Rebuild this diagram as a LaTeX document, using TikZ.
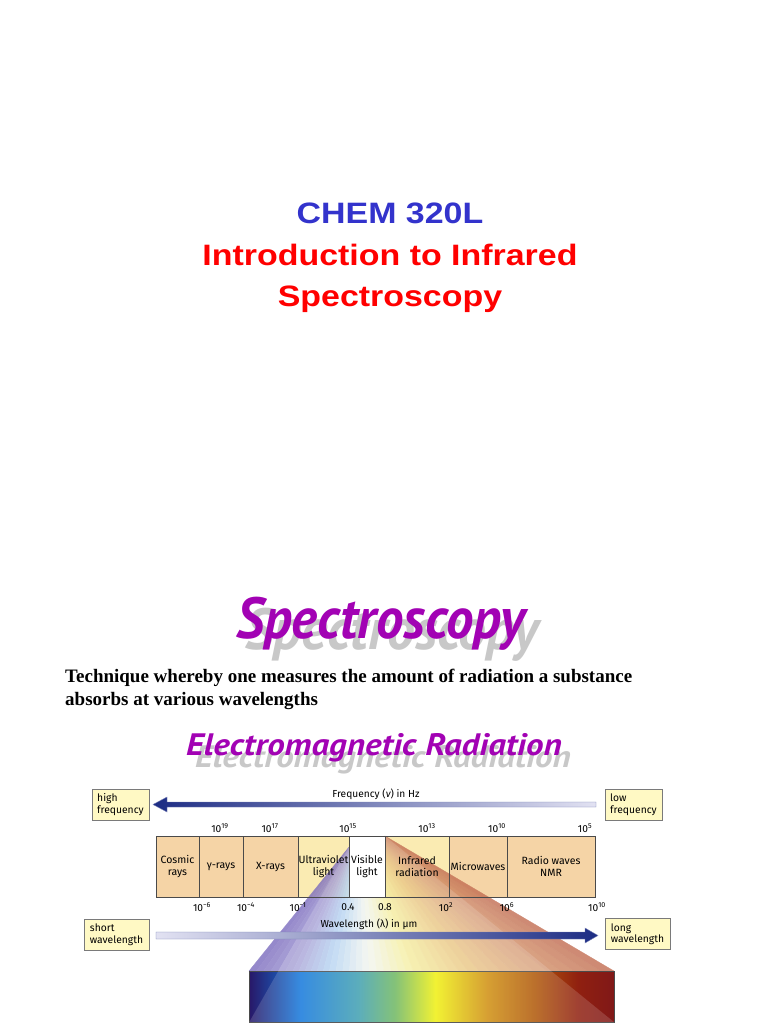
\documentclass[tikz,border=0pt]{standalone}
\usepackage{fontspec}
\setmainfont{Liberation Serif}
\newfontfamily\slidefont{Liberation Sans}
\newfontfamily\logofont{PT Sans}
\newfontfamily\figfont{Fira Sans}
\usepackage{tikz}
\usetikzlibrary{calc}

% colours of the colour strip (needed before the shading)
\definecolor{spA}{HTML}{281868}
\definecolor{spB}{HTML}{1478DC}
\definecolor{spC}{HTML}{40A0B0}
\definecolor{spD}{HTML}{70B860}
\definecolor{spE}{HTML}{F0F010}
\definecolor{spF}{HTML}{D09010}
\definecolor{spG}{HTML}{B05808}
\definecolor{spH}{HTML}{902010}
\definecolor{spI}{HTML}{801818}
\pgfdeclarehorizontalshading{visspec}{100bp}{color(0bp)=(spA); color(25bp)=(spA);
  color(32bp)=(spB); color(40bp)=(spC); color(45bp)=(spD); color(50.5bp)=(spE);
  color(57.5bp)=(spF); color(64bp)=(spG); color(70bp)=(spH); color(75bp)=(spI);
  color(100bp)=(spI)}

\begin{document}
\begin{tikzpicture}[
  x=1pt, y=-1pt,
  cell/.style={rectangle, draw=cellBorder, line width=0.6pt,
    align=center, inner sep=0pt, minimum height=61pt,
    font=\figfont\fontsize{10.5}{11.5}\selectfont},
  tag/.style={rectangle, draw=tagBorder, line width=0.6pt, fill=tagFill,
    align=left, inner xsep=3pt, inner ysep=2pt, minimum height=31pt,
    font=\figfont\fontsize{10.3}{11.5}\selectfont},
  tick/.style={font=\figfont\fontsize{10.2}{11}\selectfont, inner sep=1pt},
  heading/.style={font=\logofont\bfseries\itshape\fontsize{58}{60}\selectfont,
    color=headMagenta, inner sep=0pt, anchor=base west},
  headshadow/.style={heading, color=headShadow},
  subheading/.style={heading, font=\logofont\bfseries\itshape\fontsize{31}{33}\selectfont},
  titleline/.style={font=\slidefont\bfseries\fontsize{29.5}{34}\selectfont,
    inner sep=0pt, anchor=base},
]
\definecolor{titleBlue}{HTML}{3333CC}
\definecolor{titleRed}{HTML}{FF0000}
\definecolor{headMagenta}{HTML}{A202B4}
\definecolor{headShadow}{HTML}{C8C8C8}
\definecolor{cellFill}{HTML}{F5D4A6}
\definecolor{cellLight}{HTML}{FAEBB2}
\definecolor{cellBorder}{HTML}{4A4A4A}
\definecolor{tagFill}{HTML}{FFF9C4}
\definecolor{tagBorder}{HTML}{7A7A7A}
\definecolor{arrowDark}{HTML}{1C2C84}
\definecolor{arrowLight}{HTML}{E2E2F2}
\definecolor{fanA}{HTML}{7868BC}
\definecolor{fanB}{HTML}{9A92D0}
\definecolor{fanC}{HTML}{A8CCF0}
\definecolor{fanD}{HTML}{F0F4EC}
\definecolor{fanE}{HTML}{F4EC90}
\definecolor{fanF}{HTML}{E8C070}
\definecolor{fanG}{HTML}{D49468}
\definecolor{fanH}{HTML}{C06A50}

\useasboundingbox[fill=white] (0,0) rectangle (768,1024);

% slide one: course title
\node[titleline, color=titleBlue] (course) at (390,224) {\scalebox{1.15}[1]{CHEM 320L}};
\node[titleline, color=titleRed] (titleA) at (390,265)
  {\scalebox{1.15}[1]{Introduction to Infrared}};
\node[titleline, color=titleRed] (titleB) at (390,306) {\scalebox{1.15}[1]{Spectroscopy}};

% slide two: headings with their grey drop shadows
\node[headshadow] (specshadow) at (245,649) {\scalebox{0.96}[1]{Spectroscopy}};
\node[heading] (spec) at (236,638) {\scalebox{0.945}[1]{Spectroscopy}};
\node[font=\bfseries\fontsize{19}{23}\selectfont, align=left, inner sep=0pt,
  anchor=base west] (intro) at (65,705)
  {Technique whereby one measures the amount of radiation a substance\\
   absorbs at various wavelengths};
\node[subheading, color=headShadow] (emshadow) at (195,767)
  {\scalebox{1.13}[1]{Electromagnetic Radiation}};
\node[subheading] (em) at (186,755) {\scalebox{1.13}[1]{Electromagnetic Radiation}};

% backgrounds of the band of regions
\fill[cellFill] (156,836) rectangle (595,897);
\fill[cellLight] (298,836) rectangle (349,897);
\fill[cellLight] (385,836) rectangle (449,897);

% fan from the visible band down to the colour strip, in thin solid slices
\coordinate (fanUV) at (349,847);
\coordinate (fanIR) at (385,836);
\coordinate (fanL) at (249,971);
\coordinate (fanR) at (614,971);
\begin{scope}[transparency group, opacity=0.8]
  \foreach \ta/\tb/\ca/\cb in {0/.12/fanA/fanB, .12/.22/fanB/fanC, .22/.33/fanC/fanD,
      .33/.45/fanD/fanE, .45/.6/fanE/fanF, .6/.78/fanF/fanG, .78/1/fanG/fanH}
    \foreach \k in {0,...,5} {
      \pgfmathsetmacro\ua{\ta+(\tb-\ta)*\k/6}
      \pgfmathsetmacro\ub{\ta+(\tb-\ta)*(\k+1)/6}
      \pgfmathsetmacro\mix{100*(\k+0.5)/6}
      \filldraw[\cb!\mix!\ca, line width=0.3pt]
        ($(fanUV)!\ua!(fanIR)$) -- ($(fanUV)!\ub!(fanIR)$)
        -- ($(fanL)!\ub!(fanR)$) -- ($(fanL)!\ua!(fanR)$) -- cycle;
    }
\end{scope}
\node[draw=cellBorder, line width=0.5pt, inner sep=0pt, minimum width=365pt,
  minimum height=51pt, anchor=north west, shading=visspec] (strip) at (249,971) {};
% lighter inner wedge running down to the strip's lower corners
\fill[white, opacity=0.15] (fanUV) -- (fanIR) -- (strip.south east) -- (strip.south west) -- cycle;
\fill[white] (349,836) rectangle (385,897);

% the band of regions
\node[cell, minimum width=43pt] (cosmic) at (177.5,866.5) {Cosmic\\rays};
\node[cell, minimum width=44pt] (gamma) at (221,866.5) {γ-rays};
\node[cell, minimum width=55pt] (xray) at (270.5,866.5) {X-rays};
\node[cell, minimum width=51pt] (uv) at (323.5,866.5) {Ultraviolet\\light};
\node[cell, minimum width=36pt] (vis) at (367,866.5) {Visible\\light};
\node[cell, minimum width=64pt] (ir) at (417,866.5) {Infrared\\radiation};
\node[cell, minimum width=58pt] (micro) at (478,866.5) {Microwaves};
\node[cell, minimum width=88pt] (radio) at (551,866.5) {Radio waves\\NMR};

% frequency scale
\node[tick] (f19) at (220,828) {10\textsuperscript{19}};
\node[tick] (f17) at (270,828) {10\textsuperscript{17}};
\node[tick] (f15) at (348,828) {10\textsuperscript{15}};
\node[tick] (f13) at (427,828) {10\textsuperscript{13}};
\node[tick] (f10) at (497,828) {10\textsuperscript{10}};
\node[tick] (f5) at (585,828) {10\textsuperscript{5}};
\node[tick] (freqlabel) at (376,794) {Frequency ({\itshape ν}) in Hz};

% wavelength scale
\node[tick] (w6) at (202,907) {10\textsuperscript{−6}};
\node[tick] (w4) at (246,907) {10\textsuperscript{−4}};
\node[tick] (w1) at (298,907) {10\textsuperscript{−1}};
\node[tick] (w04) at (348,907) {0.4};
\node[tick] (w08) at (385,907) {0.8};
\node[tick] (w2) at (446,907) {10\textsuperscript{2}};
\node[tick] (w6b) at (507,907) {10\textsuperscript{6}};
\node[tick] (w10) at (597,907) {10\textsuperscript{10}};
\node[tick] (wavelabel) at (369,924) {Wavelength (λ) in μm};

% the four end tags
\node[tag, minimum width=57pt] (highf) at (120.5,804.5) {high\\frequency};
\node[tag, minimum width=57pt] (lowf) at (633.5,804.5) {low\\frequency};
\node[tag, minimum width=65pt] (shortw) at (116.5,934.5) {short\\wavelength};
\node[tag, minimum width=65pt] (longw) at (637.5,934) {long\\wavelength};

% the two broad arrows, drawn as shaded outlines
\coordinate (freqtip) at (153,804.5);
\coordinate (freqend) at (596,804.5);
\shade[left color=arrowDark, right color=arrowLight, draw=arrowDark!60, line width=0.4pt]
  (freqtip) -- ++(14,-7.5) -- ++(0,5) -- (freqend |- 0,802) -- (freqend |- 0,807)
  -- (167,807) -- ++(0,5) -- cycle;
\coordinate (wavestart) at (156,935.5);
\coordinate (wavetip) at (598,935.5);
\shade[left color=arrowLight, right color=arrowDark, draw=arrowDark!60, line width=0.4pt]
  (wavestart |- 0,932) -- (585,932) -- ++(0,-4) -- (wavetip) -- (585,943) -- ++(0,-4)
  -- (wavestart |- 0,939) -- cycle;
\end{tikzpicture}
\end{document}
